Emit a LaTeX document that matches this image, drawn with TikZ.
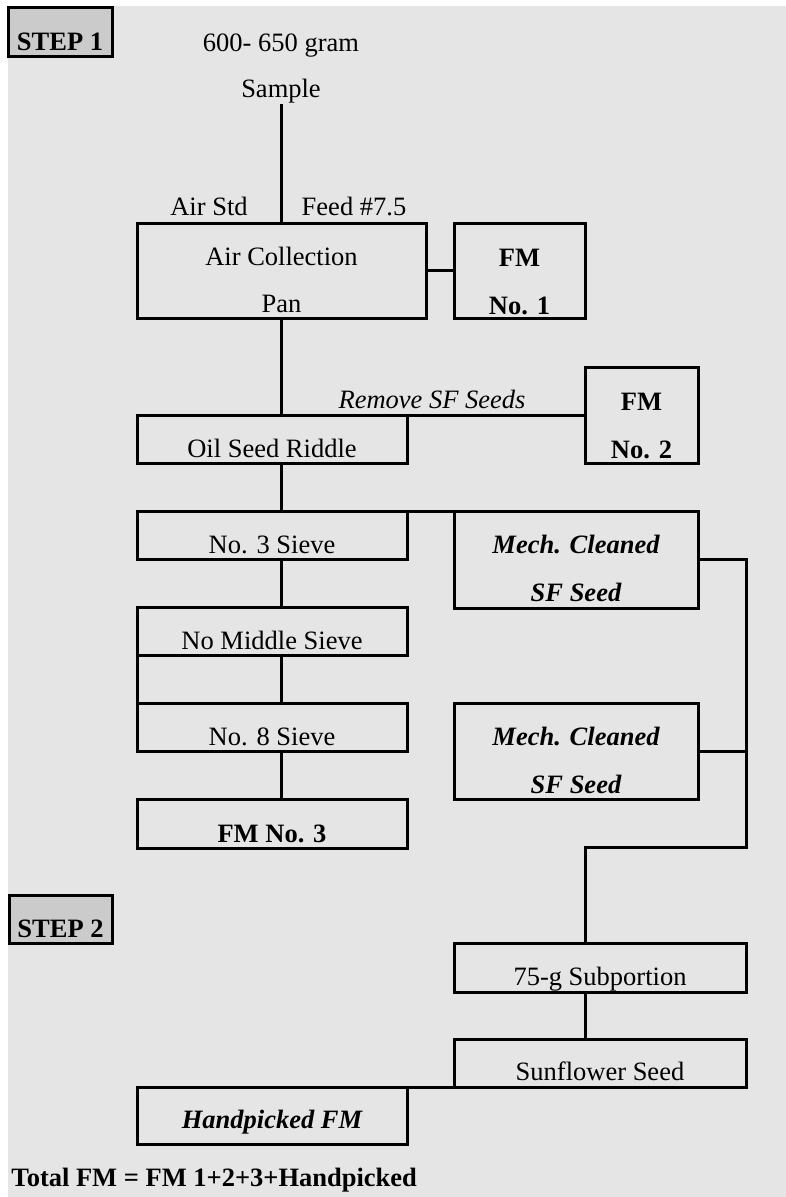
\documentclass[tikz,border=0pt]{standalone}
\usepackage{fontspec}
\setmainfont{Liberation Serif}
\newcommand\mkbox[6][]{%
  \node[box,#1,minimum width={(#5)-(#3)},minimum height={(#6)-(#4)}] (#2) at ({((#3)+(#5))/2},{((#4)+(#6))/2}) {};}
\begin{document}
\begin{tikzpicture}[x=1pt,y=-1pt,line width=3pt,
  box/.style={draw=black,inner sep=0pt,outer sep=0pt,line width=3pt},
  stepbox/.style={box,fill=stepgray},
  lbl/.style={inner sep=0pt,anchor=base,font=\fontsize{26.5}{30}\selectfont},
  conn/.style={draw=black,line width=3pt}]
\definecolor{bggray}{HTML}{E5E5E5}
\definecolor{stepgray}{HTML}{CBCBCB}
\useasboundingbox (0,0) rectangle (786,1197);
\fill[bggray] (8,6) rectangle (786,1197);
% boxes
\mkbox[stepbox]{step1}{8}{7}{112}{56}
\mkbox[stepbox]{step2}{9}{895}{112}{943}
\mkbox{aircol}{137}{223}{426}{318}
\mkbox{fm1}{454}{223}{585}{318}
\mkbox{fm2}{585}{367}{698}{463}
\mkbox{oil}{137}{415}{407}{463}
\mkbox{sieve3}{137}{511}{407}{559}
\mkbox{mech1}{454}{511}{698}{608}
\mkbox{mid}{137}{607}{407}{655}
\mkbox{s8}{137}{703}{407}{751}
\mkbox{mech2}{454}{703}{698}{799}
\mkbox{fm3}{137}{799}{407}{848}
\mkbox{sub75}{454}{943}{746}{992}
\mkbox{sun}{454}{1039}{746}{1087}
\mkbox{hand}{137}{1087}{407}{1144}
% texts
\node[lbl] (tstep1) at (60,50) {\bfseries STEP 1};
\node[lbl] (tstep2) at (60.5,937) {\bfseries STEP 2};
\node[lbl] (tgram) at (281,51) {600- 650 gram};
\node[lbl] (tsample) at (281,97) {Sample};
\node[lbl] (tairstd) at (209,215) {Air Std};
\node[lbl] (tfeed) at (354,215) {Feed \#7.5};
\node[lbl] (tac1) at (281.5,265) {Air Collection};
\node[lbl] (tac2) at (281.5,312) {Pan};
\node[lbl] (tfm1a) at (519.5,266) {\bfseries FM};
\node[lbl] (tfm1b) at (519.5,314) {\bfseries No. 1};
\node[lbl] (tfm2a) at (641.5,410) {\bfseries FM};
\node[lbl] (tfm2b) at (641.5,458) {\bfseries No. 2};
\node[lbl] (tremove) at (432,408) {\itshape Remove SF Seeds};
\node[lbl] (toil) at (272,457) {Oil Seed Riddle};
\node[lbl] (ts3) at (272,553) {No. 3 Sieve};
\node[lbl] (tmid) at (272,649) {No Middle Sieve};
\node[lbl] (ts8) at (272,745) {No. 8 Sieve};
\node[lbl] (tfm3) at (272,842) {\bfseries FM No. 3};
\node[lbl] (tm1a) at (576,553) {\bfseries\itshape Mech. Cleaned};
\node[lbl] (tm1b) at (576,601) {\bfseries\itshape SF Seed};
\node[lbl] (tm2a) at (576,745) {\bfseries\itshape Mech. Cleaned};
\node[lbl] (tm2b) at (576,793) {\bfseries\itshape SF Seed};
\node[lbl] (tsub) at (600,985) {75-g Subportion};
\node[lbl] (tsun) at (600,1080) {Sunflower Seed};
\node[lbl] (thand) at (272,1128) {\bfseries\itshape Handpicked FM};
\node[lbl,anchor=base west] (ttotal) at (10,1186) {\bfseries Total FM = FM 1+2+3+Handpicked};
% helper coordinates
\coordinate (spine) at (281,0);
\coordinate (jr) at (746,847);
\coordinate (jl) at (585,847);
% connectors
\draw[conn] (tsample.south) -- (aircol.north -| tsample.south);
\draw[conn] (aircol.east) -- (fm1.west);
\draw[conn] (spine |- aircol.south) -- (spine |- oil.north);
\draw[conn] (oil.north east) -- (fm2.west);
\draw[conn] (spine |- oil.south) -- (spine |- sieve3.north);
\draw[conn] (sieve3.north east) -- (mech1.north west);
\draw[conn] (spine |- sieve3.south) -- (spine |- mid.north);
\draw[conn] (spine |- mid.south) -- (spine |- s8.north);
\draw[conn] (mid.south west) -- (s8.north west);
\draw[conn] (spine |- s8.south) -- (spine |- fm3.north);
\draw[conn] (mech1.east) -| (jr) -- (jl) -- (jl |- sub75.north);
\draw[conn] (mech2.east) -- (mech2.east -| jr);
\draw[conn] (jl |- sub75.south) -- (jl |- sun.north);
\draw[conn] (hand.north east) -- (sun.south west);
\end{tikzpicture}
\end{document}
